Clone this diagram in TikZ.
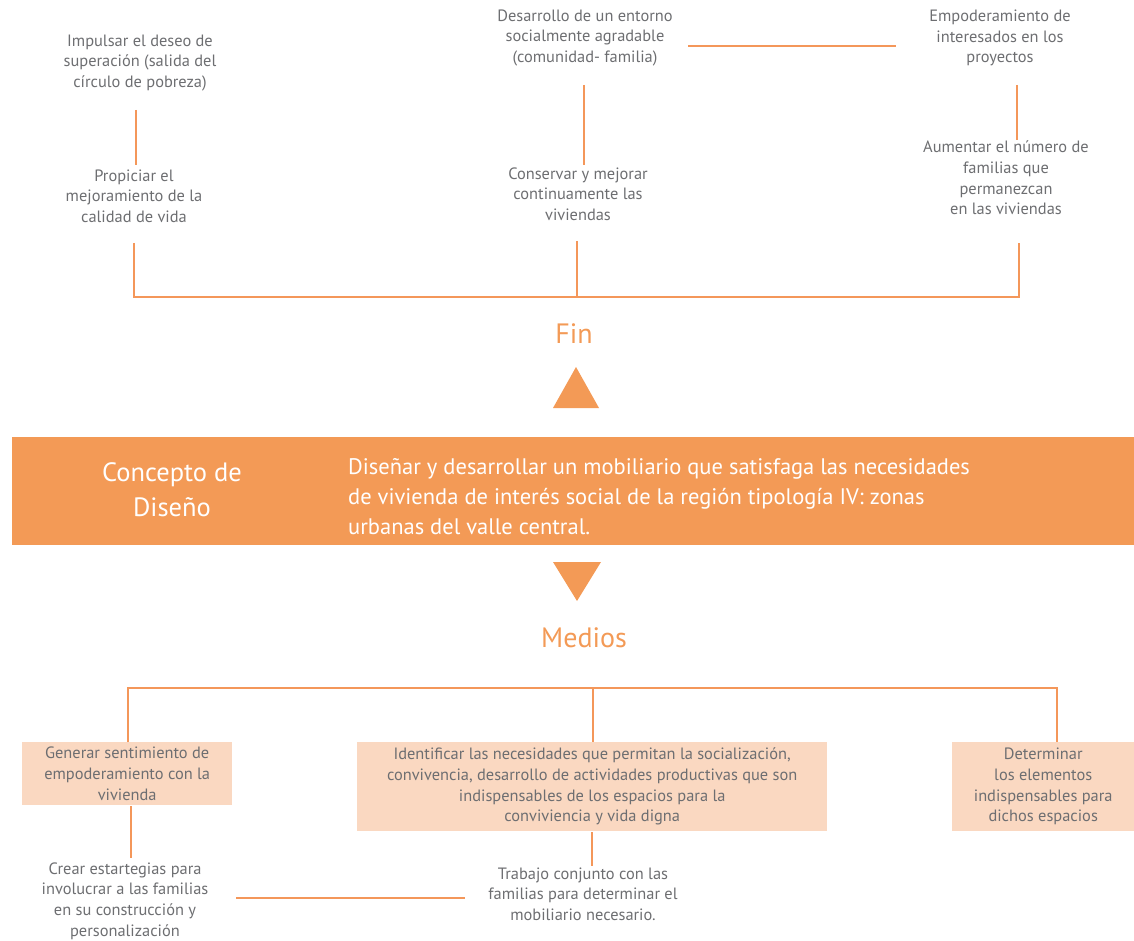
\documentclass[tikz,border=0pt]{standalone}
\usepackage{fontspec}
\setmainfont{PT Sans}
\definecolor{org}{HTML}{F4975A}
\definecolor{ban}{HTML}{F39A56}
\definecolor{txt}{HTML}{6D6E71}
\definecolor{boxf}{HTML}{FAD8C1}
\begin{document}
\begin{tikzpicture}[x=1pt,y=-1pt,
  lbl/.style={inner sep=0pt,align=center,text=txt,font=\fontsize{16.4}{20.7}\selectfont},
  bx/.style={lbl,fill=boxf,anchor=north west},
  con/.style={draw=org,line width=2pt},
  big/.style={inner sep=0pt,text=ban,font=\fontsize{28}{32}\selectfont}]
\useasboundingbox (0,0) rectangle (1134,941);
% top row
\node[lbl] (t1) at (140,63) {Impulsar el deseo de\\superación (salida del\\círculo de pobreza)};
\node[lbl] (t2) at (134,196) {Propiciar el\\mejoramiento de la\\calidad de vida};
\node[lbl] (t3) at (585,38) {Desarrollo de un entorno\\socialmente agradable\\(comunidad- familia)};
\node[lbl] (t4) at (578,194) {Conservar y mejorar\\continuamente las\\viviendas};
\node[lbl] (t5) at (1000,38) {Empoderamiento de\\interesados en los\\proyectos};
\node[lbl] (t6) at (1006,178) {Aumentar el número de\\familias que\\permanezcan\\en las viviendas};
\coordinate (c1a) at (136,110); \coordinate (c1b) at (136,165);
\coordinate (c2a) at (134,243); \coordinate (c2b) at (134,297);
\coordinate (c3a) at (584,85);  \coordinate (c3b) at (584,165);
\coordinate (c4a) at (577,241); \coordinate (c4b) at (577,297);
\coordinate (c5a) at (1017,85); \coordinate (c5b) at (1017,140);
\coordinate (c6a) at (1019,243); \coordinate (c6b) at (1019,297);
\coordinate (h1a) at (688,46); \coordinate (h1b) at (896,46);
\draw[con] (c1a) -- (c1b);
\draw[con] (c3a) -- (c3b);
\draw[con] (c5a) -- (c5b);
\draw[con] (h1a) -- (h1b);
\draw[con] (c2a) -- (c2b) -- (c6b) -- (c6a);
\draw[con] (c4a) -- (c4b);
% Fin
\node[big] (fin) at (574,334) {Fin};
\fill[ban] (553,408) -- (576,367) -- (599,408) -- cycle;
% banner
\fill[ban] (12,437) rectangle (1134,545);
\node[inner sep=0pt,align=center,text=white,font=\fontsize{26.5}{35}\selectfont] (cd) at (172,490) {Concepto de\\Diseño};
\node[inner sep=0pt,align=left,anchor=west,text=white,font=\fontsize{22.5}{30}\selectfont] (obj) at (348,497) {Diseñar y desarrollar un mobiliario que satisfaga las necesidades\\de vivienda de interés social de la región tipología IV: zonas\\urbanas del valle central.};
\fill[ban] (553,562) -- (601,562) -- (577,601) -- cycle;
\node[big] (med) at (584,638) {Medios};
% bottom
\node[bx,minimum width=210,minimum height=63] (b1) at (22,742) {Generar sentimiento de\\empoderamiento con la\\vivienda};
\node[bx,minimum width=470,minimum height=89] (b2) at (357,742) {Identificar las necesidades que permitan la socialización,\\convivencia, desarrollo de actividades productivas que son\\indispensables de los espacios para la\\conviviencia y vida digna};
\node[bx,minimum width=182,minimum height=89] (b3) at (952,742) {Determinar\\los elementos\\indispensables para\\dichos espacios};
\node[lbl] (b4) at (125,901) {Crear estartegias para\\involucrar a las familias\\en su construcción y\\personalización};
\node[lbl] (b5) at (583,894) {Trabajo conjunto con las\\familias para determinar el\\mobiliario necesario.};
\coordinate (m1) at (128,688); \coordinate (m3) at (1057,688); \coordinate (m2) at (593,688);
\draw[con] (b1.north -| m1) -- (m1) -- (m3) -- (b3.north -| m3);
\draw[con] (m2) -- (b2.north -| m2);
\coordinate (d1a) at (131,806); \coordinate (d1b) at (131,858);
\draw[con] (d1a) -- (d1b);
\coordinate (d2a) at (592,832); \coordinate (d2b) at (592,866);
\draw[con] (d2a) -- (d2b);
\coordinate (h2a) at (236,898); \coordinate (h2b) at (465,898);
\draw[con] (h2a) -- (h2b);
\end{tikzpicture}
\end{document}
